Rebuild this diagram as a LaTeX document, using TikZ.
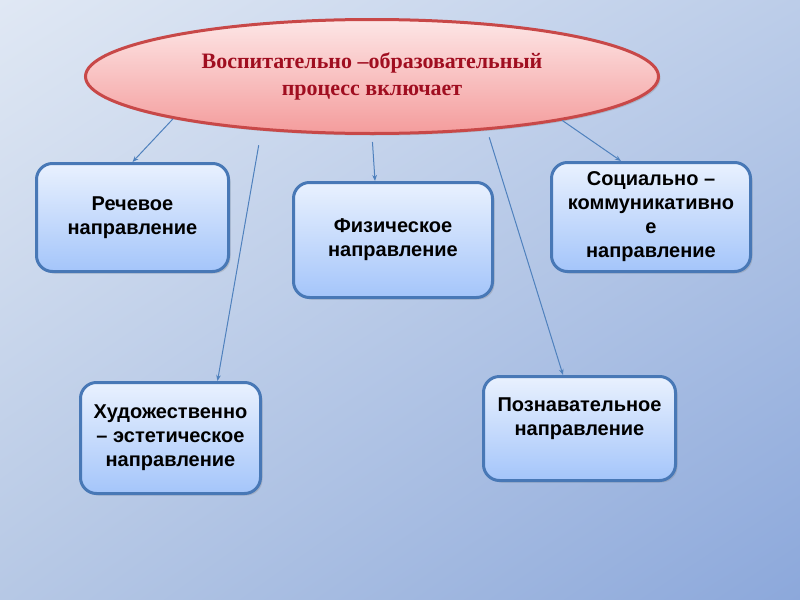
\documentclass[tikz,border=0pt]{standalone}
\usepackage{fontspec}
\setmainfont{Liberation Serif}
\newfontfamily\boxfont{Liberation Sans}
\usetikzlibrary{arrows.meta,shapes.geometric,shadows,shadings,calc}

\definecolor{bgul}{RGB}{224,232,244}
\definecolor{bgur}{RGB}{188,205,233}
\definecolor{bgll}{RGB}{182,200,229}
\definecolor{bglr}{RGB}{140,168,219}
\definecolor{boxline}{RGB}{72,120,182}
\definecolor{boxtop}{RGB}{233,241,254}
\definecolor{boxbot}{RGB}{164,197,250}
\definecolor{ovalline}{RGB}{200,72,72}
\definecolor{ovaltop}{RGB}{253,230,230}
\definecolor{ovalbot}{RGB}{244,156,156}
\definecolor{ovaltext}{RGB}{160,14,32}
\definecolor{connline}{RGB}{79,129,189}

\tikzset{
  dirbox/.style={draw=boxline, line width=2.25pt, rounded corners=12pt,
    top color=boxtop, bottom color=boxbot, align=center, inner sep=0pt,
    font=\boxfont\bfseries\fontsize{15}{18}\selectfont,
    drop shadow={shadow xshift=1.5pt, shadow yshift=-1.5pt, opacity=0.3}},
  conn/.style={draw=connline, line width=0.75pt, -{Stealth[length=4.5pt,width=3.5pt]}}
}

\begin{document}
\begin{tikzpicture}[x=0.75pt,y=0.75pt,yscale=-1,xscale=1]
%Background
\shade[upper left=bgul, upper right=bgur, lower left=bgll, lower right=bglr] (0,0) rectangle (800,600);

%Shape: Ellipse
\node (proc) [ellipse, draw=ovalline, line width=2.25pt, top color=ovaltop, bottom color=ovalbot,
  minimum width=429.75pt, minimum height=85.5pt, inner sep=0pt, align=center,
  text=ovaltext, font=\bfseries\fontsize{16.5}{20}\selectfont,
  drop shadow={shadow xshift=1.5pt, shadow yshift=-1.5pt, opacity=0.3}]
  at (372,76.5) {Воспитательно –образовательный\\процесс включает};

%Shape: Rounded Rectangles
\node (rech) [dirbox, minimum width=144pt, minimum height=81pt] at (132.5,217.5) {Речевое\\направление};
\node (fiz) [dirbox, minimum width=149.25pt, minimum height=86.25pt] at (393,240) {Физическое\\направление};
\node (soc) [dirbox, minimum width=149.25pt, minimum height=81.75pt] at (651,217) {Социально –\\коммуникативно\\е\\направление};
\node (hud) [dirbox, minimum width=135pt, minimum height=83.25pt] at (170.5,438) {Художественно\\– эстетическое\\направление};
\node (pozn) [dirbox, minimum width=144pt, minimum height=78pt] at (579.5,428.5) {Познавательное\\направление\\~};

%Straight Lines
\draw [conn] (proc.192.6) -- (rech.north);
\draw [conn, shorten <=11.25pt] (proc.206) -- ($(hud.north)+(47,0)$);
\draw [conn, shorten <=5.25pt] (proc.270) -- ($(fiz.north)+(-18,0)$);
\draw [conn, shorten <=5.6pt] (proc.335.5) -- ($(pozn.north)+(-16.5,0)$);
\draw [conn] (proc.-13.9) -- ($(soc.north)+(-30,0)$);

\end{tikzpicture}
\end{document}
